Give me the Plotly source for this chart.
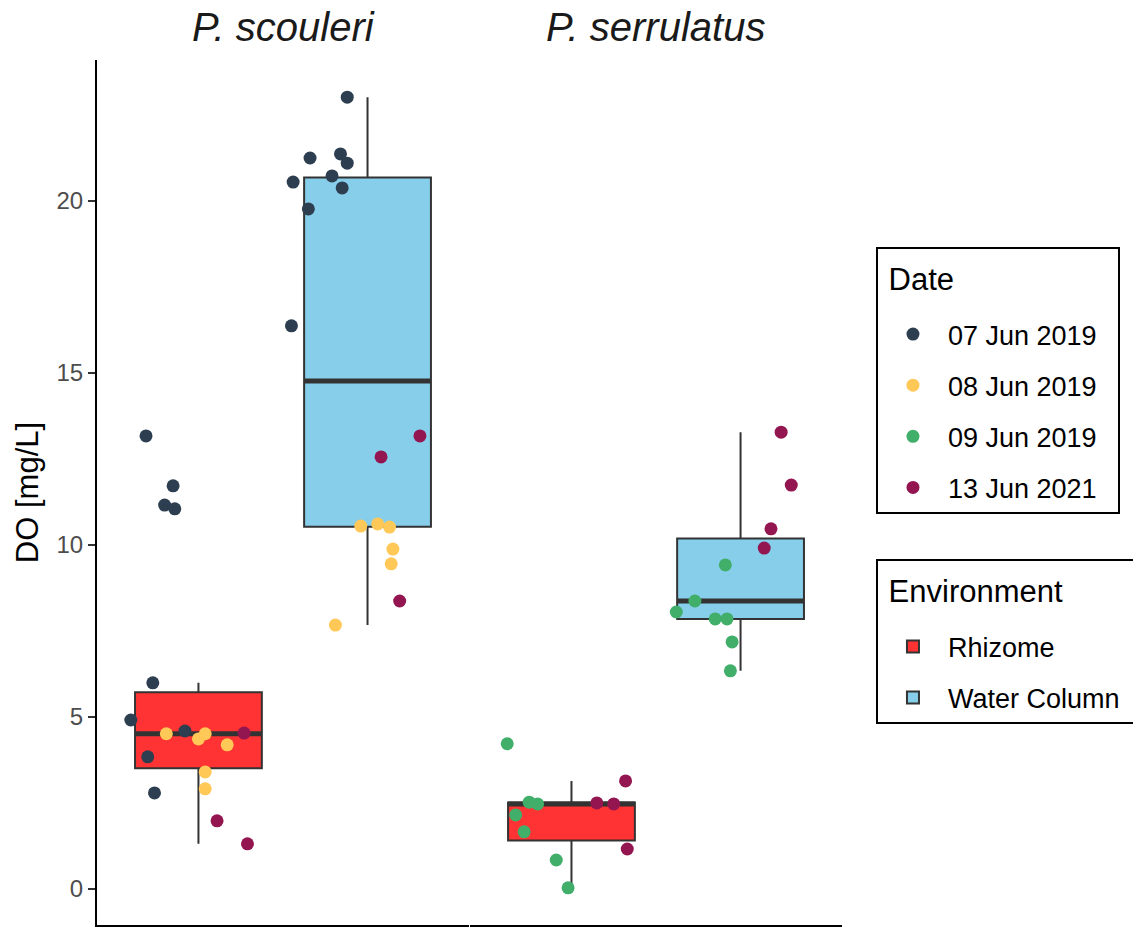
import numpy as np
import plotly.graph_objects as go

species = ["P. scouleri", "P. serrulatus"]
environments = ["Rhizome", "Water Column"]
dates = ["07 Jun 2019", "08 Jun 2019", "09 Jun 2019", "13 Jun 2021"]

# P. scouleri - Rhizome
sco_rhizome_do = [5.99, 4.91, 4.59, 3.84, 2.79, 13.17, 11.72, 11.16, 11.05,
                  4.51, 4.36, 4.51, 4.19, 3.40, 2.91,
                  4.53, 1.98, 1.31]
sco_rhizome_date = ["07 Jun 2019"] * 9 + ["08 Jun 2019"] * 6 + ["13 Jun 2021"] * 3
sco_rhizome_jitter = [-0.27, -0.40, -0.08, -0.30, -0.26, -0.31, -0.15, -0.20, -0.14,
                      -0.19, 0.00, 0.04, 0.17, 0.04, 0.04,
                      0.27, 0.11, 0.29]

# P. scouleri - Water Column
sco_water_do = [23.02, 21.25, 21.37, 21.10, 20.73, 20.55, 20.38, 19.77, 16.37,
                10.55, 10.61, 10.52, 9.88, 9.45, 7.67,
                13.17, 12.56, 8.37]
sco_water_date = ["07 Jun 2019"] * 9 + ["08 Jun 2019"] * 6 + ["13 Jun 2021"] * 3
sco_water_jitter = [-0.12, -0.34, -0.16, -0.12, -0.21, -0.44, -0.15, -0.35, -0.45,
                    -0.04, 0.06, 0.13, 0.15, 0.14, -0.19,
                    0.31, 0.08, 0.19]

# P. serrulatus - Rhizome
ser_rhizome_do = [4.22, 2.52, 2.47, 2.15, 1.66, 0.84, 0.03,
                  3.14, 2.50, 2.47, 1.16]
ser_rhizome_date = ["09 Jun 2019"] * 7 + ["13 Jun 2021"] * 4
ser_rhizome_jitter = [-0.38, -0.25, -0.20, -0.33, -0.28, -0.09, -0.02,
                      0.32, 0.15, 0.25, 0.33]

# P. serrulatus - Water Column
ser_water_do = [9.42, 8.37, 8.05, 7.85, 7.85, 7.18, 6.34,
                13.28, 11.74, 10.47, 9.91]
ser_water_date = ["09 Jun 2019"] * 7 + ["13 Jun 2021"] * 4
ser_water_jitter = [-0.09, -0.27, -0.38, -0.15, -0.08, -0.05, -0.06,
                    0.24, 0.30, 0.18, 0.14]

date_colors = {"07 Jun 2019": "#2C3E50", "08 Jun 2019": "#FFC857",
               "09 Jun 2019": "#41AE6A", "13 Jun 2021": "#931651"}
env_colors = {"Rhizome": "#FF3333", "Water Column": "#87CEEB"}

groups = [
    (0, 0, sco_rhizome_do, sco_rhizome_date, sco_rhizome_jitter),
    (0, 1, sco_water_do, sco_water_date, sco_water_jitter),
    (1, 0, ser_rhizome_do, ser_rhizome_date, ser_rhizome_jitter),
    (1, 1, ser_water_do, ser_water_date, ser_water_jitter),
]

FONT = "Liberation Sans, Arial, Helvetica, sans-serif"
BOXW = 0.75
fig = go.Figure()

def stats(vals):
    v = np.array(vals, dtype=float)
    q1, med, q3 = np.percentile(v, [25, 50, 75])
    iqr = q3 - q1
    lf = v[v >= q1 - 1.5 * iqr].min()
    uf = v[v <= q3 + 1.5 * iqr].max()
    return q1, med, q3, lf, uf

# boxes
for si, ei, vals, dts, jit in groups:
    xa = "x" if si == 0 else "x2"
    pos = ei + 1
    q1, med, q3, lf, uf = stats(vals)
    env = environments[ei]
    fig.add_trace(go.Box(
        x=[pos], q1=[q1], median=[med], q3=[q3], lowerfence=[lf], upperfence=[uf],
        width=BOXW, fillcolor=env_colors[env], line=dict(color="#333333", width=2),
        whiskerwidth=0, boxpoints=False, name=env, legend="legend2",
        legendgroup="env" + env, legendrank=ei + 1, showlegend=(si == 0),
        xaxis=xa, yaxis="y", hoverinfo="skip"))
    fig.add_trace(go.Scatter(
        x=[pos - BOXW / 2, pos + BOXW / 2], y=[med, med], mode="lines",
        line=dict(color="#333333", width=5), showlegend=False,
        xaxis=xa, yaxis="y", hoverinfo="skip"))

# points
shown = set()
for si, ei, vals, dts, jit in groups:
    xa = "x" if si == 0 else "x2"
    pos = ei + 1
    for di, d in enumerate(dates):
        idx = [i for i, dd in enumerate(dts) if dd == d]
        if not idx:
            continue
        fig.add_trace(go.Scatter(
            x=[pos + jit[i] for i in idx], y=[vals[i] for i in idx],
            mode="markers", marker=dict(color=date_colors[d], size=13),
            name=d, legendgroup="date" + d, legend="legend", legendrank=di + 1,
            showlegend=(d not in shown), xaxis=xa, yaxis="y"))
        shown.add(d)

# facet titles
for i, sp in enumerate(species):
    fig.add_annotation(text="<i>" + sp + "</i>", x=0.25 + 0.5 * i, y=1.038,
                       xref="paper", yref="paper", showarrow=False,
                       xanchor="center", yanchor="middle",
                       font=dict(size=40, color="#1A1A1A", family=FONT))

xcommon = dict(range=[0.4, 2.6], showticklabels=False, ticks="", showgrid=False,
               zeroline=False, showline=True, linecolor="black", linewidth=2)

def legend_title(t, pad):
    # blank spacer lines around the title text set the legend's inner spacing
    return ("\u00a0<br><span style='font-size:31px'>\u00a0" + t + "</span><br>"
            + "\u00a0" * pad)

fig.update_layout(
    width=1133, height=930,
    margin=dict(l=97, r=291, t=60, b=5, autoexpand=False),
    paper_bgcolor="white", plot_bgcolor="white",
    font=dict(family=FONT, color="black"),
    xaxis=dict(domain=[0, 0.4993], **xcommon),
    xaxis2=dict(domain=[0.5007, 1], **xcommon),
    yaxis=dict(range=[-1.05, 24.1], tickvals=[0, 5, 10, 15, 20],
               ticks="outside", ticklen=7, tickwidth=2, tickcolor="#333333",
               tickfont=dict(size=24, color="#4D4D4D"),
               showgrid=False, zeroline=False, showline=True,
               linecolor="black", linewidth=2,
               title=dict(text="DO [mg/L]", font=dict(size=31, color="black"), standoff=9)),
    legend=dict(title=dict(text=legend_title("Date", 54), font=dict(size=15.7)),
                font=dict(size=27),
                x=1.0456, xanchor="left", y=0.784, yanchor="top",
                bordercolor="black", borderwidth=2, bgcolor="white",
                tracegroupgap=13, itemwidth=60),
    legend2=dict(title=dict(text=legend_title("Environment", 62), font=dict(size=15.7)),
                 font=dict(size=27),
                 x=1.0456, xanchor="left", y=0.423, yanchor="top",
                 bordercolor="black", borderwidth=2, bgcolor="white",
                 tracegroupgap=13, itemwidth=60),
)

fig.write_html("out.html", config={"displayModeBar": False},
               post_script="document.body.style.margin='0px';document.body.style.overflow='hidden';")
